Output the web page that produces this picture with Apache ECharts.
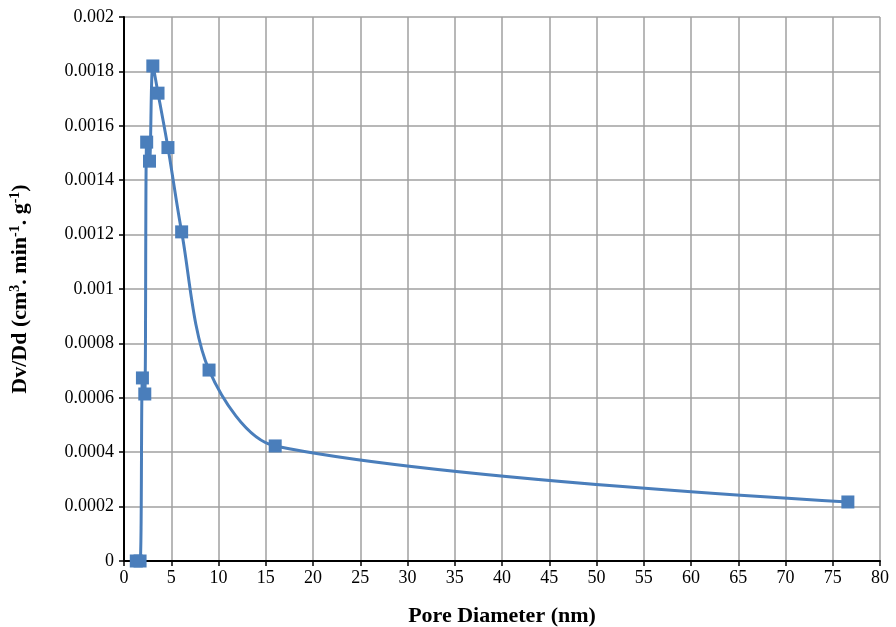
<!DOCTYPE html>
<html>
<head>
<meta charset="utf-8">
<script src="https://cdn.jsdelivr.net/npm/echarts@6/dist/echarts.min.js"></script>
<style>
  html, body { margin: 0; padding: 0; background: #fff; }
  #main { width: 896px; height: 627px; }
</style>
</head>
<body>
<div id="main"></div>
<script type="text/javascript">
// pore diameter (nm) and Dv/Dd
var poreDiameter = [1.3, 1.7, 1.95, 2.2, 2.4, 2.7, 3.05, 3.6, 4.65, 6.1, 9.0, 16.0, 76.6];
var dvdd = [0, 0, 0.000673, 0.000614, 0.00154, 0.00147, 0.00182, 0.00172, 0.00152, 0.00121, 0.000702, 0.000423, 0.000217];

var xMax = 80, xStep = 5;
var yMax = 0.002, yStep = 0.0002;

var points = [];
for (var i = 0; i < poreDiameter.length; i++) {
    points.push([poreDiameter[i], dvdd[i]]);
}

var font = '"Liberation Serif", "Times New Roman", serif';

var myChart = echarts.init(document.getElementById('main'));
myChart.setOption({
    animation: false,
    backgroundColor: '#fff',
    grid: {
        left: 124,
        right: 16,
        top: 17,
        bottom: 66,
        containLabel: false,
        outerBoundsMode: 'none'
    },
    xAxis: {
        type: 'value',
        min: 0,
        max: xMax,
        interval: xStep,
        name: 'Pore Diameter (nm)',
        nameLocation: 'middle',
        nameGap: 44,
        nameTextStyle: { fontFamily: font, fontSize: 22, fontWeight: 'bold', color: '#000' },
        axisLine: { lineStyle: { color: '#000', width: 2 } },
        axisTick: { show: true, length: 5, lineStyle: { color: '#000', width: 1.5 } },
        axisLabel: { fontFamily: font, fontSize: 18, color: '#000', margin: 8 },
        splitLine: { show: true, lineStyle: { color: '#a0a0a0', width: 1.5 } }
    },
    yAxis: {
        type: 'value',
        min: 0,
        max: yMax,
        interval: yStep,
        name: '{b|Dv/Dd (cm}{s|3}{b|. min}{s|-1}{b|. g}{s|-1}{b|)}',
        nameLocation: 'middle',
        nameRotate: 90,
        nameGap: 92,
        nameTextStyle: {
            color: '#000',
            rich: {
                b: { fontFamily: font, fontSize: 22, fontWeight: 'bold', color: '#000' },
                s: { fontFamily: font, fontSize: 14, fontWeight: 'bold', color: '#000', verticalAlign: 'top', padding: [0, 0, 10, 0] }
            }
        },
        axisLine: { show: true, lineStyle: { color: '#000', width: 2 } },
        axisTick: { show: true, length: 5, lineStyle: { color: '#000', width: 1.5 } },
        axisLabel: {
            fontFamily: font, fontSize: 18, color: '#000', margin: 10,
            formatter: function (v) { return String(+v.toFixed(4)); }
        },
        splitLine: { show: true, lineStyle: { color: '#a0a0a0', width: 1.5 } }
    },
    series: [{
        type: 'line',
        data: points,
        smooth: 0.3,
        symbol: 'rect',
        symbolSize: 13,
        lineStyle: { color: '#4a7ebb', width: 3 },
        itemStyle: { color: '#4a7ebb' }
    }]
});
</script>
</body>
</html>
